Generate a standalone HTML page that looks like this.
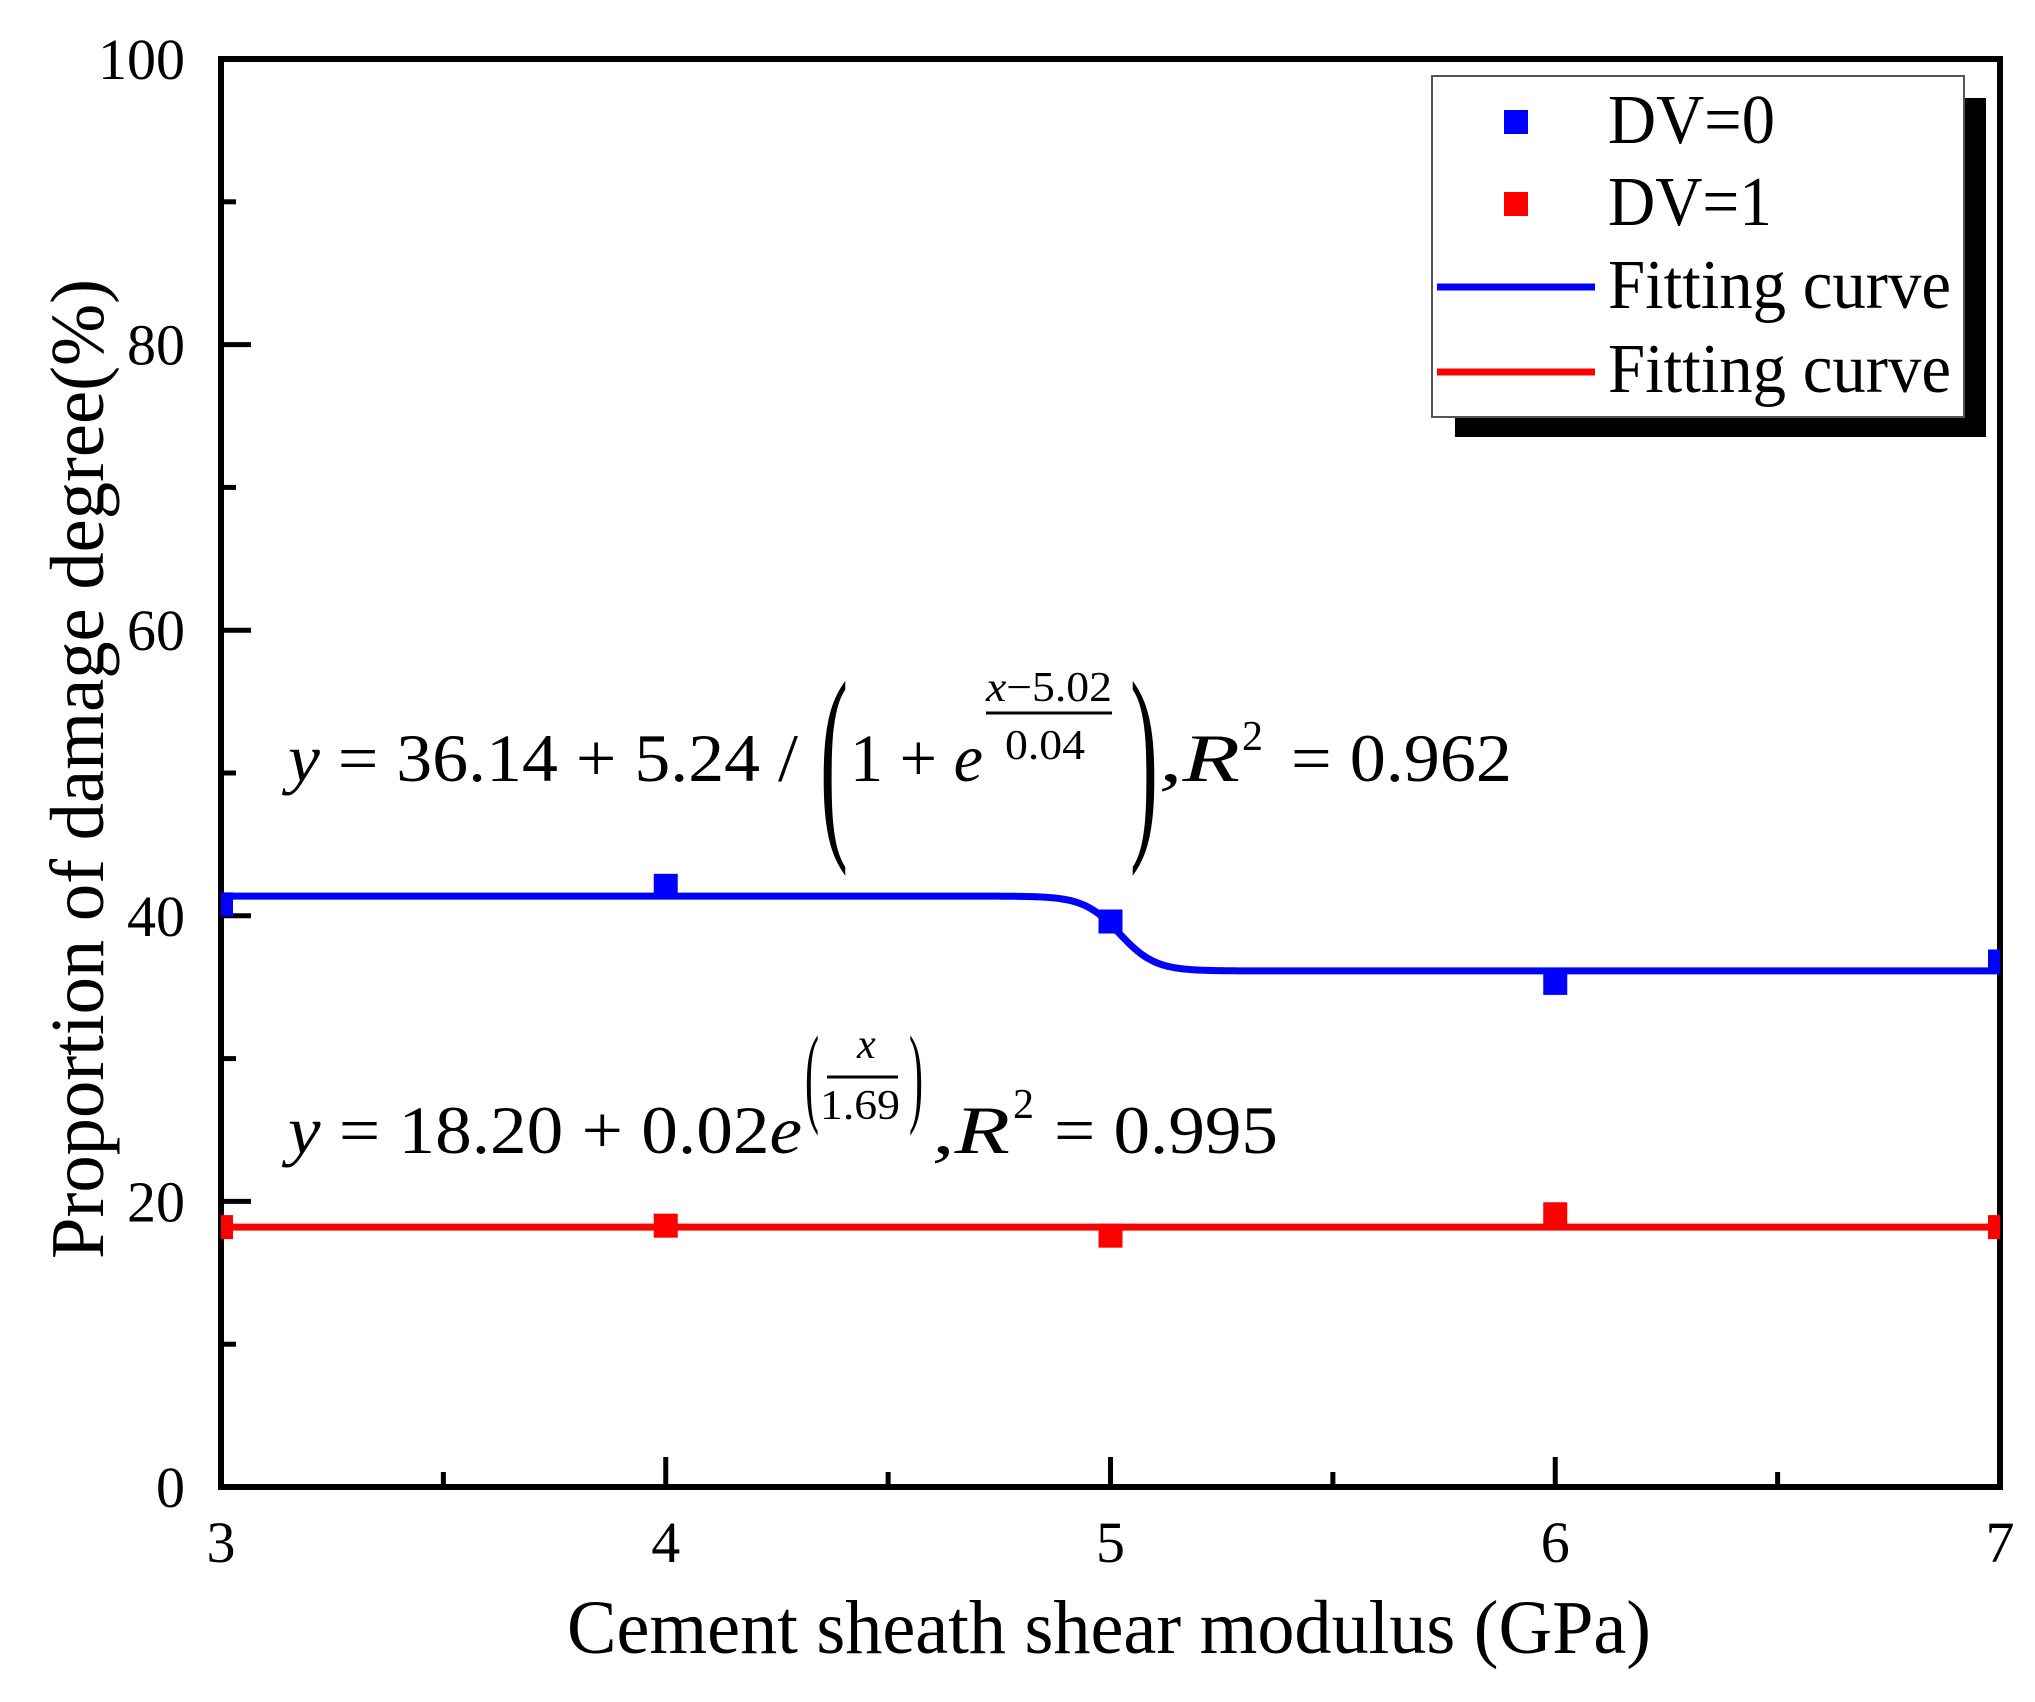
<!DOCTYPE html>
<html><head><meta charset="utf-8"><style>
html,body{margin:0;padding:0;background:#fff}
svg{display:block}
text{font-family:"Liberation Serif",serif;fill:#000}
</style></head><body>
<svg id="chart" width="2035" height="1702" viewBox="0 0 2035 1702" xmlns="http://www.w3.org/2000/svg">
<defs><clipPath id="plotclip"><rect x="221" y="59" width="1779" height="1428"/></clipPath></defs>
<g id="axes"></g>
<g id="series" clip-path="url(#plotclip)"></g>

<g>
  <text x="288" y="781" font-size="68" textLength="510" lengthAdjust="spacingAndGlyphs"><tspan font-style="italic">y</tspan> = 36.14 + 5.24 /</text>
  <text x="820" y="830" font-size="215" textLength="28" lengthAdjust="spacingAndGlyphs" fill="#555">(</text>
  <text x="850" y="781" font-size="68" textLength="133" lengthAdjust="spacingAndGlyphs">1 + <tspan font-style="italic">e</tspan></text>
  <text x="986" y="701" font-size="42" textLength="126" lengthAdjust="spacingAndGlyphs"><tspan font-style="italic">x</tspan>−5.02</text>
  <line x1="986" y1="713" x2="1112" y2="713" stroke="#000" stroke-width="3"/>
  <text x="1005" y="759" font-size="42" textLength="80" lengthAdjust="spacingAndGlyphs">0.04</text>
  <text x="1130" y="830" font-size="215" textLength="28" lengthAdjust="spacingAndGlyphs" fill="#555">)</text>
  <text x="1159" y="781" font-size="68" font-style="italic" font-weight="normal" textLength="81" lengthAdjust="spacingAndGlyphs">,R</text>
  <text x="1242" y="750" font-size="42">2</text>
  <text x="1291" y="781" font-size="68" textLength="221" lengthAdjust="spacingAndGlyphs">= 0.962</text>
</g>
<g>
  <text x="288" y="1153" font-size="68" textLength="514" lengthAdjust="spacingAndGlyphs"><tspan font-style="italic">y</tspan> = 18.20 + 0.02<tspan font-style="italic">e</tspan></text>
  <text x="805" y="1112" font-size="110" textLength="14" lengthAdjust="spacingAndGlyphs" fill="#555">(</text>
  <text x="857" y="1058" font-size="42" font-style="italic">x</text>
  <line x1="827" y1="1077" x2="898" y2="1077" stroke="#000" stroke-width="3"/>
  <text x="820" y="1119" font-size="42" textLength="80" lengthAdjust="spacingAndGlyphs">1.69</text>
  <text x="909" y="1112" font-size="110" textLength="14" lengthAdjust="spacingAndGlyphs" fill="#555">)</text>
  <text x="932" y="1153" font-size="68" font-style="italic" font-weight="normal" textLength="78" lengthAdjust="spacingAndGlyphs">,R</text>
  <text x="1013" y="1118" font-size="42">2</text>
  <text x="1054" y="1153" font-size="68" textLength="224" lengthAdjust="spacingAndGlyphs">= 0.995</text>
</g>

<text x="567" y="1653" font-size="76" textLength="1084" lengthAdjust="spacingAndGlyphs">Cement sheath shear modulus (GPa)</text>
<text transform="translate(103,1259) rotate(-90)" x="0" y="0" font-size="76" textLength="980" lengthAdjust="spacingAndGlyphs">Proportion of damage degree(%)</text>

<g>
  <rect x="1455" y="98" width="531" height="339" fill="#000"/>
  <rect x="1432" y="76" width="532" height="341" fill="#fff" stroke="#555" stroke-width="2"/>
  <g>
    <rect x="1504" y="110" width="24" height="24" fill="#0000ff"/>
    <text x="1608" y="143" font-size="70" textLength="167" lengthAdjust="spacingAndGlyphs">DV=0</text>
  </g>
  <g>
    <rect x="1504" y="192" width="24" height="24" fill="#ff0000"/>
    <text x="1608" y="225" font-size="70" textLength="164" lengthAdjust="spacingAndGlyphs">DV=1</text>
  </g>
  <g>
    <line x1="1437" y1="287" x2="1595" y2="287" stroke="#0000ff" stroke-width="7"/>
    <text x="1608" y="308" font-size="70" textLength="343" lengthAdjust="spacingAndGlyphs">Fitting curve</text>
  </g>
  <g>
    <line x1="1437" y1="372" x2="1595" y2="372" stroke="#ff0000" stroke-width="7"/>
    <text x="1608" y="392" font-size="70" textLength="343" lengthAdjust="spacingAndGlyphs">Fitting curve</text>
  </g>
</g>
</svg>
<script>
const xCategories = [3, 4, 5, 6, 7];
const dv0Values = [40.8, 42.1, 39.6, 35.3, 36.8];
const dv1Values = [18.2, 18.3, 17.6, 19.1, 18.2];
const fitDv0Params = [36.14, 5.24, 5.02, 0.04];
const fitDv1Level = [18.2];
const xTickLabels = ["3", "4", "5", "6", "7"];
const yTickLabels = ["0", "20", "40", "60", "80", "100"];

const NS = "http://www.w3.org/2000/svg";
const X0 = 221, X1 = 2000, Y0 = 1487, Y1 = 59;
const xMin = 3, xMax = 7, yMin = 0, yMax = 100;
function xs(v){ return X0 + (v - xMin) / (xMax - xMin) * (X1 - X0); }
function ys(v){ return Y0 - (v - yMin) / (yMax - yMin) * (Y0 - Y1); }
function mk(tag, attrs, parent){ const e = document.createElementNS(NS, tag); for (const k in attrs) e.setAttribute(k, attrs[k]); parent.appendChild(e); return e; }

const axes = document.getElementById('axes');
const series = document.getElementById('series');

const frame = mk('rect', {x:X0, y:Y1, width:X1-X0, height:Y0-Y1, fill:'none', stroke:'#000', 'stroke-width':6}, axes);



for (let i = 0; i < yTickLabels.length; i++) {
  const v = parseFloat(yTickLabels[i]);
  const y = ys(v);
  if (i > 0 && i < yTickLabels.length - 1) {
    const t = mk('line', {x1:X0, y1:y, x2:X0+30, y2:y, stroke:'#000', 'stroke-width':5}, axes);
    
    
  }
  const lb = mk('text', {x:185, y:y+20, 'font-size':58, 'text-anchor':'end'}, axes);
  lb.textContent = yTickLabels[i];
  
  
  if (i < yTickLabels.length - 1) {
    const m = ys(v + 10);
    const mt = mk('line', {x1:X0, y1:m, x2:X0+15, y2:m, stroke:'#000', 'stroke-width':5}, axes);
    
    
  }
}
for (let i = 0; i < xTickLabels.length; i++) {
  const v = parseFloat(xTickLabels[i]);
  const x = xs(v);
  if (i > 0 && i < xTickLabels.length - 1) {
    const t = mk('line', {x1:x, y1:Y0, x2:x, y2:Y0-30, stroke:'#000', 'stroke-width':5}, axes);
    
    
  }
  const lb = mk('text', {x:x, y:1562, 'font-size':58, 'text-anchor':'middle'}, axes);
  lb.textContent = xTickLabels[i];
  
  
  if (i < xTickLabels.length - 1) {
    const m = xs(v + 0.5);
    const mt = mk('line', {x1:m, y1:Y0, x2:m, y2:Y0-15, stroke:'#000', 'stroke-width':5}, axes);
    
    
  }
}

function fit0(x){ return fitDv0Params[0] + fitDv0Params[1] / (1 + Math.exp((x - fitDv0Params[2]) / fitDv0Params[3])); }
function fit1(x){ return fitDv1Level[0]; }
function curvePath(f){
  let d = '';
  for (let i = 0; i <= 800; i++) {
    const x = xMin + (xMax - xMin) * i / 800;
    d += (i ? 'L' : 'M') + xs(x).toFixed(2) + ',' + ys(f(x)).toFixed(2);
  }
  return d;
}
const c0 = mk('path', {d:curvePath(fit0), fill:'none', stroke:'#0000ff', 'stroke-width':7}, series);


const c1 = mk('path', {d:curvePath(fit1), fill:'none', stroke:'#ff0000', 'stroke-width':7}, series);



for (let i = 0; i < xCategories.length; i++) {
  const x = xs(xCategories[i]);
  const p0 = mk('rect', {x:x-12, y:ys(dv0Values[i])-12, width:24, height:24, fill:'#0000ff'}, series);
  
  
  const p1 = mk('rect', {x:x-12, y:ys(dv1Values[i])-12, width:24, height:24, fill:'#ff0000'}, series);
  
  
}
</script>
</body></html>
